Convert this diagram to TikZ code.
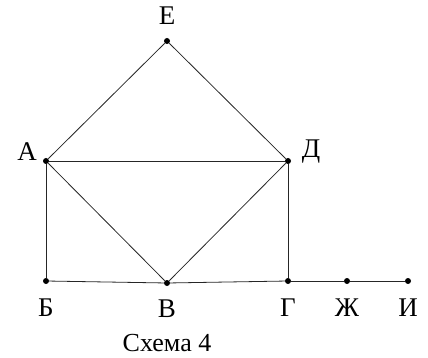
\documentclass[tikz,border=0pt]{standalone}
\usepackage{fontspec}
\setmainfont{Liberation Serif}
\begin{document}
\begin{tikzpicture}[x=1pt,y=-1pt,
  vtx/.style={circle,fill=black,inner sep=0pt,minimum size=6pt},
  lbl/.style={font=\fontsize{27}{30}\selectfont,inner sep=0pt},
  edge/.style={draw=black!85,line width=0.8pt}]
\useasboundingbox (0,0) rectangle (428,358);
\node[vtx] (E) at (167,41) {};
\node[vtx] (A) at (46,161) {};
\node[vtx] (D) at (288,161) {};
\node[vtx] (B) at (46,281) {};
\node[vtx] (V) at (167,283) {};
\node[vtx] (G) at (288,281) {};
\node[vtx] (Zh) at (347,281) {};
\node[vtx] (I) at (408,281) {};
\draw[edge] (E) -- (A);
\draw[edge] (E) -- (D);
\draw[edge] (A) -- (D);
\draw[edge] (A) -- (B);
\draw[edge] (A) -- (V);
\draw[edge] (D) -- (V);
\draw[edge] (D) -- (G);
\draw[edge] (B) -- (V);
\draw[edge] (V) -- (G);
\draw[edge] (G) -- (Zh);
\draw[edge] (Zh) -- (I);
\node[lbl] (lE) at (167,16) {Е};
\node[lbl] (lA) at (27,152) {А};
\node[lbl] (lD) at (311,152) {Д};
\node[lbl] (lB) at (46,308) {Б};
\node[lbl] (lV) at (167,309) {В};
\node[lbl] (lG) at (288,308) {Г};
\node[lbl] (lZh) at (347,308) {Ж};
\node[lbl] (lI) at (408,308) {И};
\node[font=\fontsize{26}{28}\selectfont,inner sep=0pt] (cap) at (167,343) {Схема 4};
\end{tikzpicture}
\end{document}
